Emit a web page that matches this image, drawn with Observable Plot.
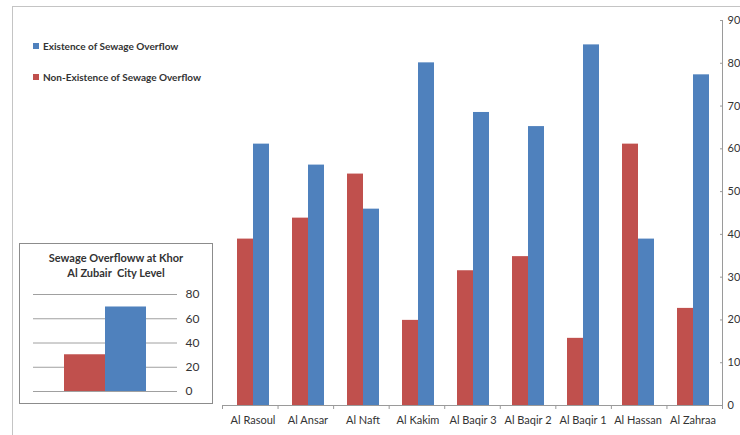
<!DOCTYPE html>
<html><head><meta charset="utf-8">
<script src="https://cdn.jsdelivr.net/npm/d3@7"></script>
<script src="https://cdn.jsdelivr.net/npm/@observablehq/plot@0.6"></script>
<style>
body{margin:0;background:#fff;font-family:Lato,sans-serif;}
#wrap{position:relative;width:740px;height:435px;overflow:hidden;background:#fff;}
.abs{position:absolute;}
#frame{position:absolute;left:12px;top:6px;width:740px;height:440px;border-top:1px solid #c4c4c4;border-left:1px solid #c4c4c4;}
.leg{position:absolute;left:33px;font-weight:bold;font-size:10px;color:#333;white-space:nowrap;line-height:12px;}
.leg i{display:inline-block;width:6px;height:6px;margin-right:4px;vertical-align:1px;}
#insetBox{position:absolute;left:19px;top:243px;width:192px;height:159px;border:1px solid #8c8c8c;}
#insetTitle{position:absolute;left:19px;top:250px;width:194px;text-align:center;font-weight:bold;font-size:11px;line-height:15px;color:#333;}
</style></head><body><div id="wrap"><div id="frame"></div></div>
<script>
const districts = ["Al Rasoul","Al Ansar","Al Naft","Al Kakim","Al Baqir 3","Al Baqir 2","Al Baqir 1","Al Hassan","Al Zahraa"];
const existence = [61.1, 56.2, 45.9, 80.1, 68.5, 65.2, 84.3, 38.9, 77.3];
const nonExistence = [38.9, 43.8, 54.1, 19.9, 31.5, 34.8, 15.7, 61.1, 22.7];
const seriesNames = ["Non-Existence of Sewage Overflow","Existence of Sewage Overflow"];
const seriesColors = ["#C0504D","#4F81BD"];
const yTicks = [0,10,20,30,40,50,60,70,80,90];
const cityTitle = ["Sewage Overfloww at Khor","Al Zubair\u00a0 City Level"];
const cityValues = [30.3, 69.7];
const cityTicks = [0,20,40,60,80];

const wrap = document.getElementById("wrap");
const rows = districts.flatMap((d,i)=>[
  {district:d, series:seriesNames[0], value:nonExistence[i]},
  {district:d, series:seriesNames[1], value:existence[i]}
]);
const M = {marginLeft:222, marginRight:18, marginTop:20, marginBottom:30};
const baseStyle = {fontFamily:"Lato, sans-serif", fontSize:"11px", color:"#333", background:"transparent", overflow:"visible"};

const main = Plot.plot({
  width:740, height:435, ...M,
  style: baseStyle,
  fx:{domain:districts, padding:0},
  x:{domain:seriesNames, paddingInner:0, paddingOuter:0.685, axis:null},
  y:{domain:[0,90]},
  color:{domain:seriesNames, range:seriesColors},
  marks:[
    Plot.barY(rows,{fx:"district", x:"series", y:"value", fill:"series"}),
    Plot.axisFx({anchor:"bottom", tickSize:0, tickPadding:11, label:null, fontSize:11}),
    Plot.axisY({anchor:"right", ticks:yTicks, tickSize:0, tickPadding:7, label:null, fontSize:11})
  ]
});
main.classList.add("abs"); main.style.left="0px"; main.style.top="0px";
wrap.appendChild(main);

const over = Plot.plot({
  width:740, height:435, ...M,
  style: baseStyle,
  x:{domain:[0,districts.length]},
  y:{domain:[0,90]},
  marks:[
    Plot.ruleY([0],{stroke:"#9a9a9a"}),
    Plot.ruleX([districts.length],{stroke:"#9a9a9a"}),
    Plot.axisX({ticks:d3.range(0,districts.length+1), tickSize:4, tickFormat:()=>"", stroke:"#9a9a9a", label:null}),
    Plot.axisY({anchor:"right", ticks:yTicks, tickSize:-3, tickFormat:()=>"", stroke:"#9a9a9a", label:null})
  ]
});
over.classList.add("abs"); over.style.left="0px"; over.style.top="0px";
wrap.appendChild(over);

// legend (top-left)
[[1,46],[0,77]].forEach(([k,top])=>{
  const el=document.createElement("div");
  el.className="leg"; el.style.top=(top-6)+"px";
  el.innerHTML=`<i style="background:${seriesColors[k]}"></i>`;
  el.appendChild(document.createTextNode(seriesNames[k]));
  wrap.appendChild(el);
});

// inset chart
const box=document.createElement("div"); box.id="insetBox"; wrap.appendChild(box);
const t=document.createElement("div"); t.id="insetTitle";
t.innerHTML=cityTitle.map(s=>`<div>${s}</div>`).join(""); wrap.appendChild(t);
const cityRows = seriesNames.map((s,i)=>({series:s, value:cityValues[i]}));
const inset = Plot.plot({
  width:212, height:160, marginLeft:33, marginRight:35, marginTop:51, marginBottom:12,
  style: baseStyle,
  x:{domain:seriesNames, paddingInner:0, paddingOuter:0.756, axis:null},
  y:{domain:[0,80]},
  color:{domain:seriesNames, range:seriesColors},
  marks:[
    Plot.ruleY(cityTicks,{stroke:"#a0a0a0"}),
    Plot.barY(cityRows,{x:"series", y:"value", fill:"series"}),
    Plot.axisY({anchor:"right", ticks:cityTicks, tickSize:0, tickPadding:8, label:null, fontSize:12})
  ]
});
inset.classList.add("abs"); inset.style.left="0px"; inset.style.top="243px";
wrap.appendChild(inset);
</script></body></html>
